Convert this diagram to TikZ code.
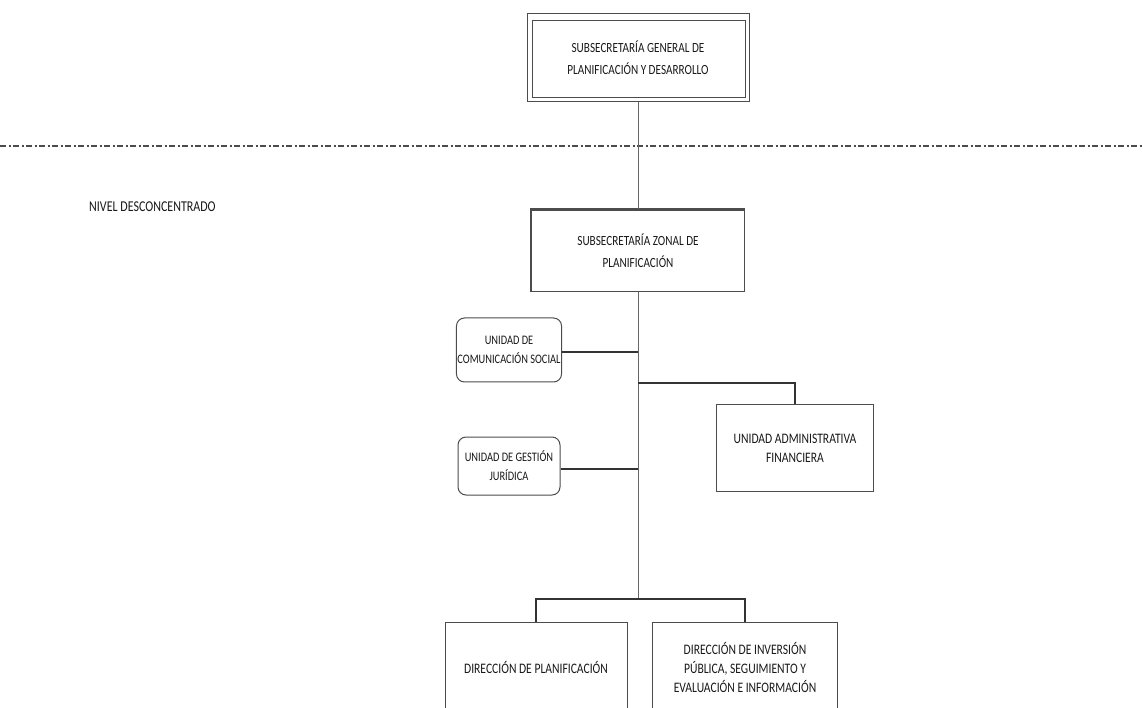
\documentclass[tikz,border=0pt]{standalone}
\usepackage{fontspec}
\setmainfont{Carlito}[FakeStretch=0.8]
\begin{document}
\begin{tikzpicture}[x=1pt,y=-1pt,
  lab/.style={font=\fontsize{14.5}{19}\selectfont, text=black!90, align=center, inner xsep=1pt},
  box/.style={draw=black!70, line width=1pt, lab},
  rbox/.style={draw=black!70, line width=1pt, rounded corners=8pt, lab, font=\fontsize{13}{19}\selectfont},
  conn/.style={draw=black!80, line width=1.6pt},
  vline/.style={draw=black!60, line width=1pt}]
\useasboundingbox (0,0) rectangle (1143,708);
% top box double border
\node[box, minimum width=222pt, minimum height=88pt, font=\fontsize{14}{22}\selectfont] (top) at (638,58) {SUBSECRETARÍA GENERAL DE\\PLANIFICACIÓN Y DESARROLLO};
\draw[draw=black!70, line width=1pt] (532,21) rectangle (745,98);
% dash-dot line
\draw[black!70, line width=1.6pt, dash pattern=on 6pt off 2.5pt on 2pt off 2.5pt] (0,146) -- (1143,146);
\node[font=\fontsize{15}{18}\selectfont, text=black!90, anchor=west, inner sep=0pt] (nivel) at (89,207) {NIVEL DESCONCENTRADO};
% zonal
\node[box, minimum width=213pt, minimum height=82pt, font=\fontsize{14}{22}\selectfont] (zonal) at (638,251) {SUBSECRETARÍA ZONAL DE\\PLANIFICACIÓN};
\draw[black!70, line width=2.2pt] (zonal.south west) -- (zonal.north west) -- (zonal.north east);
\draw[vline] (top.south) -- (zonal.north);
% staff boxes
\node[rbox, minimum width=102pt, minimum height=64pt] (com) at (509,350) {UNIDAD DE\\COMUNICACIÓN SOCIAL};
\node[rbox, minimum width=102pt, minimum height=58pt] (jur) at (509,466) {UNIDAD DE GESTIÓN\\JURÍDICA};
\node[box, minimum width=157pt, minimum height=87pt] (adm) at (795,448) {UNIDAD ADMINISTRATIVA\\FINANCIERA};
% bottom boxes
\node[box, minimum width=182pt, minimum height=90pt, anchor=north] (dpl) at (536,622) {DIRECCIÓN DE PLANIFICACIÓN};
\node[box, minimum width=185pt, minimum height=90pt, anchor=north] (dinv) at (745,622) {DIRECCIÓN DE INVERSIÓN\\PÚBLICA, SEGUIMIENTO Y\\EVALUACIÓN E INFORMACIÓN};
% spine
\coordinate (j1) at (638,352);
\coordinate (j2) at (638,383);
\coordinate (j3) at (638,469);
\coordinate (j4) at (638,599);
\draw[vline] (zonal.south) -- (j4);
\draw[conn] (com.east |- j1) -- (j1);
\draw[conn] (jur.east |- j3) -- (j3);
\draw[conn] (j2) -| (adm.north);
\draw[conn] (dpl.north) |- (j4) -| (dinv.north);
\end{tikzpicture}
\end{document}
